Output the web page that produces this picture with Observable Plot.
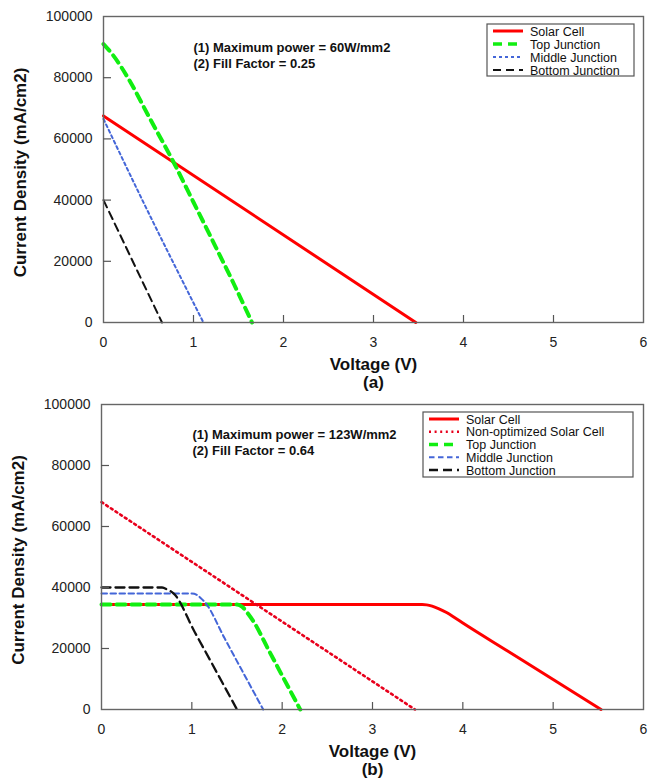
<!DOCTYPE html>
<html>
<head>
<meta charset="utf-8">
<script src="https://cdn.jsdelivr.net/npm/d3@7"></script>
<script src="https://cdn.jsdelivr.net/npm/@observablehq/plot@0.6"></script>
<style>
  html, body { margin: 0; padding: 0; background: #fff; }
  #wrap { width: 648px; }
  #wrap svg { display: block; }
</style>
</head>
<body>
<div id="wrap"></div>
<script>
// ---------------- DATA ----------------
const xTicks = [0, 1, 2, 3, 4, 5, 6];
const yTicks = [0, 20000, 40000, 60000, 80000, 100000];

// Panel (a)
const aSolarV  = [0, 3.47];
const aSolarJ  = [67500, 0];
const aTopV    = [0, 0.1, 0.3, 0.5, 0.78, 1.0, 1.25, 1.45, 1.65];
const aTopJ    = [91000, 87600, 78500, 67500, 52300, 39300, 24500, 12500, 0];
const aMidV    = [0, 0.44, 1.11];
const aMidJ    = [66500, 39500, 0];
const aBotV    = [0, 0.65];
const aBotJ    = [40000, 0];

// Panel (b)
const bSolarV  = [0, 3.55, 3.6, 3.66, 3.73, 3.82, 3.92, 4.0, 4.5, 5.0, 5.53];
const bSolarJ  = [34400, 34400, 34300, 33900, 33100, 31800, 29900, 28350, 19100, 9850, 0];
const bNonOptV = [0, 3.47];
const bNonOptJ = [68000, 0];
const bTopV    = [0, 1.5, 1.56, 1.62, 1.68, 1.85, 2.02, 2.2];
const bTopJ    = [34400, 34400, 33600, 31500, 29000, 19500, 10000, 0];
const bMidV    = [0, 1.0, 1.06, 1.1, 1.15, 1.36, 1.57, 1.79];
const bMidJ    = [38000, 38000, 37500, 36500, 35000, 23500, 12000, 0];
const bBotV    = [0, 0.67, 0.73, 0.8, 1.03, 1.27, 1.5];
const bBotJ    = [40000, 40000, 39300, 38000, 25500, 12500, 0];

const aNames = ["Solar Cell", "Top Junction", "Middle Junction", "Bottom Junction"];
const bNames = ["Solar Cell", "Non-optimized Solar Cell", "Top Junction", "Middle Junction", "Bottom Junction"];
const aAnnot = ["(1) Maximum power = 60W/mm2", "(2) Fill Factor = 0.25"];
const bAnnot = ["(1) Maximum power = 123W/mm2", "(2) Fill Factor = 0.64"];

// ---------------- STYLES ----------------
const FONT = "'Liberation Sans', Arial, Helvetica, sans-serif";
const STY = {
  solar:  {stroke: "#ff0000", strokeWidth: 3,   dash: null},
  nonopt: {stroke: "#e8001c", strokeWidth: 2.6, dash: "2,3.6"},
  topA:   {stroke: "#11ee11", strokeWidth: 4,   dash: "9,6"},
  midA:   {stroke: "#4466d8", strokeWidth: 2,   dash: "3,3"},
  botA:   {stroke: "#111111", strokeWidth: 2,   dash: "8,5"},
  topB:   {stroke: "#11ee11", strokeWidth: 4,   dash: "9,6"},
  midB:   {stroke: "#4466d8", strokeWidth: 2,   dash: "5.5,3.5"},
  botB:   {stroke: "#111111", strokeWidth: 2.3, dash: "9,5"}
};

const zip = (vs, js) => vs.map((v, i) => ({v, j: js[i]}));

function lineMark(data, s) {
  return Plot.line(data, {
    x: "v", y: "j", stroke: s.stroke, strokeWidth: s.strokeWidth,
    strokeDasharray: s.dash || undefined, curve: "monotone-x"
  });
}

function makePanel(cfg) {
  const iw = 648 - cfg.ml - cfg.mr;
  const ih = cfg.height - cfg.mt - cfg.mb;
  const svg = Plot.plot({
    width: 648,
    height: cfg.height,
    marginLeft: cfg.ml, marginRight: cfg.mr, marginTop: cfg.mt, marginBottom: cfg.mb,
    style: {fontFamily: FONT, fontSize: "14px", color: "#222", background: "#fff", overflow: "visible"},
    x: {domain: [0, 6]},
    y: {domain: [0, 100000]},
    marks: [
      ...cfg.lines.map(([d, s]) => lineMark(d, s)),
      Plot.frame({stroke: "#666", strokeWidth: 1.4}),
      Plot.ruleX(xTicks.slice(1, -1), {stroke: "#555", strokeWidth: 1.2, insetTop: ih - 7}),
      Plot.ruleY(yTicks.slice(1, -1), {stroke: "#555", strokeWidth: 1.2, insetRight: iw - 8}),
      Plot.axisX({ticks: xTicks, tickSize: 0, tickPadding: 15, tickFormat: d => String(d), fontSize: 14, label: null}),
      Plot.axisY({ticks: yTicks, tickSize: 0, tickPadding: 11, tickFormat: d => String(d), fontSize: 14, label: null}),
      Plot.text([cfg.annot.join("\n")], {
        frameAnchor: "top-left", dx: cfg.annotDx, dy: cfg.annotDy, textAnchor: "start",
        lineAnchor: "bottom", lineHeight: 1.16, fontSize: 13, fontWeight: "bold", fill: "#111"
      }),
      Plot.text(["Voltage (V)"], {
        frameAnchor: "bottom", dy: cfg.xLabelDy, lineAnchor: "bottom", textAnchor: "middle",
        fontSize: 17, fontWeight: "bold", fill: "#111"
      }),
      Plot.text([cfg.tag], {
        frameAnchor: "bottom", dy: cfg.tagDy, lineAnchor: "bottom", textAnchor: "middle",
        fontSize: 17, fontWeight: "bold", fill: "#111"
      }),
      Plot.text(["Current Density (mA/cm2)"], {
        frameAnchor: "left", dx: -83, dy: 3, rotate: -90, lineAnchor: "middle", textAnchor: "middle",
        fontSize: 17, fontWeight: "bold", fill: "#111"
      })
    ]
  });

  // legend inside the plot area
  const L = cfg.legend;
  const g = d3.select(svg).append("g").attr("class", "legend").attr("text-anchor", "start");
  g.append("rect")
    .attr("x", L.x).attr("y", L.y).attr("width", L.w).attr("height", L.h)
    .attr("fill", "#fff").attr("stroke", "#555").attr("stroke-width", 1.2);
  L.items.forEach(([name, s], i) => {
    const y = L.row0 + i * L.step;
    g.append("line")
      .attr("x1", L.sx1).attr("x2", L.sx2).attr("y1", y).attr("y2", y)
      .attr("stroke", s.stroke).attr("stroke-width", Math.min(s.strokeWidth, 3.5))
      .attr("stroke-dasharray", s.dash || null);
    g.append("text")
      .attr("x", L.tx).attr("y", y).attr("dy", "0.36em")
      .attr("text-anchor", "start")
      .attr("font-family", FONT).attr("font-size", 12.5).attr("fill", "#111")
      .text(name);
  });
  return svg;
}

const wrap = document.getElementById("wrap");

wrap.appendChild(makePanel({
  height: 390, ml: 103, mr: 5, mt: 16, mb: 68,
  lines: [
    [zip(aSolarV, aSolarJ), STY.solar],
    [zip(aTopV, aTopJ), STY.topA],
    [zip(aMidV, aMidJ), STY.midA],
    [zip(aBotV, aBotJ), STY.botA]
  ],
  annot: aAnnot, annotDx: 90, annotDy: 51,
  tag: "(a)", xLabelDy: 47, tagDy: 65,
  legend: {
    x: 487, y: 24, w: 147, h: 52, row0: 31, step: 13, sx1: 493, sx2: 523, tx: 530,
    items: [[aNames[0], STY.solar], [aNames[1], STY.topA], [aNames[2], STY.midA], [aNames[3], STY.botA]]
  }
}));

wrap.appendChild(makePanel({
  height: 391, ml: 101, mr: 5, mt: 14, mb: 72,
  lines: [
    [zip(bSolarV, bSolarJ), STY.solar],
    [zip(bNonOptV, bNonOptJ), STY.nonopt],
    [zip(bTopV, bTopJ), STY.topB],
    [zip(bMidV, bMidJ), STY.midB],
    [zip(bBotV, bBotJ), STY.botB]
  ],
  annot: bAnnot, annotDx: 91, annotDy: 50,
  tag: "(b)", xLabelDy: 47, tagDy: 65,
  legend: {
    x: 423, y: 22, w: 210, h: 65, row0: 29, step: 12.75, sx1: 429, sx2: 459, tx: 466,
    items: [[bNames[0], STY.solar], [bNames[1], STY.nonopt], [bNames[2], STY.topB], [bNames[3], STY.midB], [bNames[4], STY.botB]]
  }
}));
</script>
</body>
</html>
